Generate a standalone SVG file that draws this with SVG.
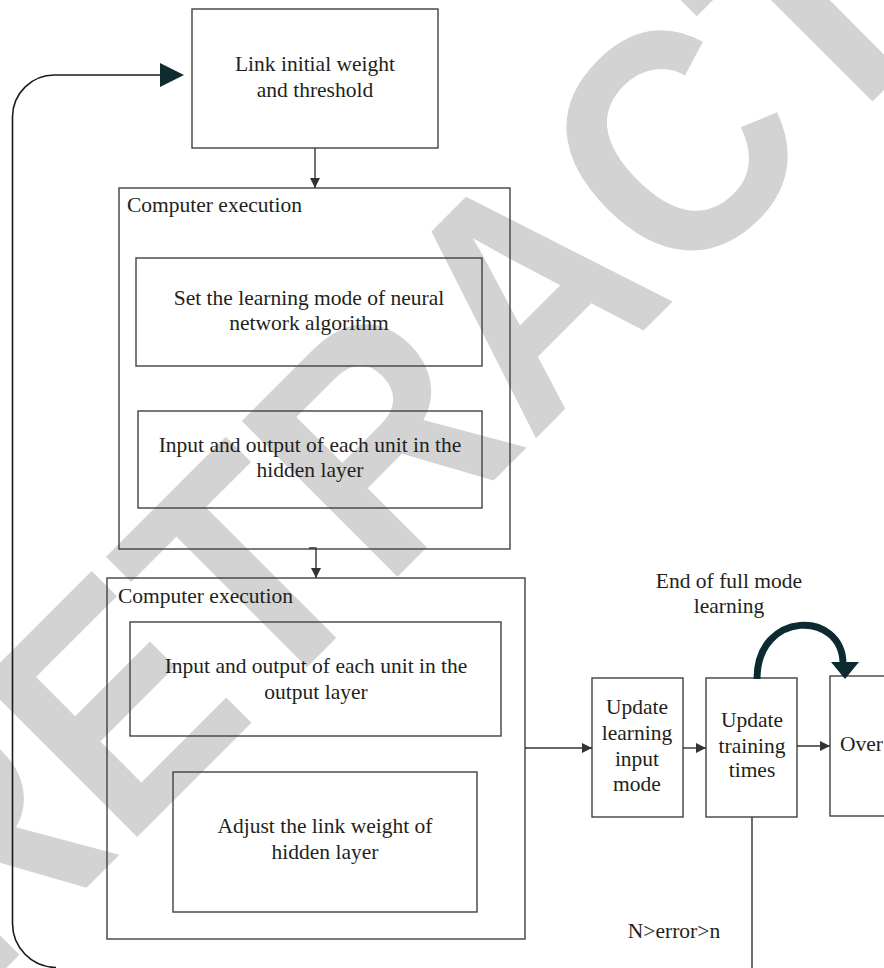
<svg xmlns="http://www.w3.org/2000/svg" width="884" height="968" viewBox="0 0 884 968">
<style>
.box{fill:none;stroke:#404040;stroke-width:1.4}
.t{font-family:"Liberation Serif","Times New Roman",serif;font-size:21.5px;fill:#231f20}
.c{text-anchor:middle}
.ln{fill:none;stroke:#333;stroke-width:1.4}
.wm{font-family:"Liberation Sans",Arial,sans-serif;font-weight:bold;font-size:320px;fill:#d3d3d3}
</style>
<defs>
<marker id="ah" viewBox="0 0 10 10" refX="10" refY="5" markerWidth="10" markerHeight="10" markerUnits="userSpaceOnUse" orient="auto">
<path d="M0,0 L10,5 L0,10 z" fill="#333"/>
</marker>
</defs>
<rect width="884" height="968" fill="#fff"/>
<g id="watermark">
<text class="wm" transform="translate(-23.5,997.6) rotate(-45) scale(0.9,1)" x="0" y="0">RETRACTED</text>
</g>
<g id="n-link">
<rect class="box" x="192" y="9" width="246" height="139"/>
<text class="t c" x="315" y="71">Link initial weight</text>
<text class="t c" x="315" y="97">and threshold</text>
</g>
<g id="n-exec1">
<rect class="box" x="119" y="188" width="391" height="361"/>
<text class="t" x="127" y="212">Computer execution</text>
</g>
<g id="n-setmode">
<rect class="box" x="136" y="258" width="346" height="108"/>
<text class="t c" x="309" y="305">Set the learning mode of neural</text>
<text class="t c" x="309" y="330">network algorithm</text>
</g>
<g id="n-hidden">
<rect class="box" x="138" y="411" width="344" height="97"/>
<text class="t c" x="310" y="452">Input and output of each unit in the</text>
<text class="t c" x="310" y="477">hidden layer</text>
</g>
<g id="n-exec2">
<rect class="box" x="107" y="578" width="418" height="361"/>
<text class="t" x="118" y="603">Computer execution</text>
</g>
<g id="n-output">
<rect class="box" x="130" y="622" width="371" height="114"/>
<text class="t c" x="316" y="673">Input and output of each unit in the</text>
<text class="t c" x="316" y="699">output layer</text>
</g>
<g id="n-adjust">
<rect class="box" x="173" y="772" width="304" height="140"/>
<text class="t c" x="325" y="833">Adjust the link weight of</text>
<text class="t c" x="325" y="859">hidden layer</text>
</g>
<g id="n-update-input">
<rect class="box" x="592" y="678" width="91" height="139"/>
<text class="t c" x="637" y="714">Update</text>
<text class="t c" x="637" y="740">learning</text>
<text class="t c" x="637" y="766">input</text>
<text class="t c" x="637" y="791">mode</text>
</g>
<g id="n-update-times">
<rect class="box" x="706" y="678" width="91" height="139"/>
<text class="t c" x="752" y="727">Update</text>
<text class="t c" x="752" y="753">training</text>
<text class="t c" x="752" y="777">times</text>
</g>
<g id="n-over">
<rect class="box" x="830" y="676" width="80" height="140"/>
<text class="t" x="840" y="751">Over</text>
</g>
<g id="labels">
<text class="t c" x="729" y="588">End of full mode</text>
<text class="t c" x="729" y="613">learning</text>
<text class="t c" x="674" y="938">N&gt;error&gt;n</text>
</g>
<g id="connectors">
<line class="ln" x1="315" y1="148" x2="315" y2="188" marker-end="url(#ah)"/>
<path class="ln" d="M309 548 H316 V578" marker-end="url(#ah)"/>
<line class="ln" x1="525" y1="748" x2="592" y2="748" marker-end="url(#ah)"/>
<line class="ln" x1="683" y1="748" x2="706" y2="748" marker-end="url(#ah)"/>
<line class="ln" x1="797" y1="746" x2="830" y2="746" marker-end="url(#ah)"/>
<line class="ln" x1="752" y1="817" x2="752" y2="968"/>
<path d="M56 967.5 A44 44 0 0 1 12.5 923 V117 A42 42 0 0 1 55 75 H162" fill="none" stroke="#1a1a1a" stroke-width="1.6"/>
<polygon points="160,63 184,75 160,87" fill="#0f2d2f"/>
<path d="M757 679 C757 610 843 610 843 664" fill="none" stroke="#0c2b30" stroke-width="7"/>
<polygon points="831,662 859,662 845,679" fill="#0c2b30"/>
</g>
</svg>
